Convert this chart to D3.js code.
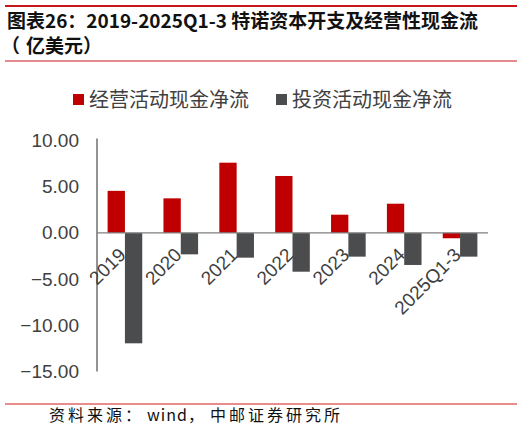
<!DOCTYPE html>
<html>
<head>
<meta charset="utf-8">
<script src="https://cdn.jsdelivr.net/npm/d3@7"></script>
<style>
  body { margin: 0; background: #fff; }
  svg { display: block; }
</style>
</head>
<body>
<div id="chart"></div>
<script>
// data
const categories = ["2019", "2020", "2021", "2022", "2023", "2024", "2025Q1-3"];
const seriesNames = ["经营活动现金净流", "投资活动现金净流"];
const operating = [4.55, 3.74, 7.6, 6.16, 1.97, 3.16, -0.58];
const investing = [-11.95, -2.32, -2.68, -4.2, -2.57, -3.47, -2.57];
const yTicks = [10, 5, 0, -5, -10, -15];

const width = 527;
const height = 440;
const colors = ["#C00000", "#4B4C4E"];
const cjk = "Noto Sans CJK SC";

const svg = d3
  .select("#chart")
  .append("svg")
  .attr("width", width)
  .attr("height", height);

// header lines and title
svg.append("line").attr("x1", 5).attr("x2", 517).attr("y1", 6).attr("y2", 6)
  .attr("stroke", "#C8161D").attr("stroke-width", 2);
svg.append("text")
  .attr("x", 7).attr("y", 28)
  .attr("font-family", cjk)
  .attr("font-weight", "bold")
  .attr("font-size", 19)
  .attr("fill", "#111")
  .attr("textLength", 471)
  .attr("lengthAdjust", "spacingAndGlyphs")
  .text("图表26：2019-2025Q1-3 特诺资本开支及经营性现金流");
// unit line, full-width brackets placed by hand
const unit = svg.append("text")
  .attr("y", 53)
  .attr("font-family", cjk)
  .attr("font-weight", "bold")
  .attr("font-size", 19)
  .attr("fill", "#111");
unit.append("tspan").attr("x", 1).text("（");
unit.append("tspan").attr("x", 26).text("亿美元");
unit.append("tspan").attr("x", 83).text("）");
svg.append("line").attr("x1", 5).attr("x2", 517).attr("y1", 61).attr("y2", 61)
  .attr("stroke", "#C8161D").attr("stroke-width", 1);

// legend
const legendX = [73, 276];
const legend = svg.selectAll(".legend")
  .data(seriesNames)
  .join("g")
  .attr("class", "legend")
  .attr("transform", (d, i) => `translate(${legendX[i]},100)`);
legend.append("rect")
  .attr("x", 0).attr("y", -6).attr("width", 11).attr("height", 11)
  .attr("fill", (d, i) => colors[i]);
legend.append("text")
  .attr("x", 16).attr("y", 7)
  .attr("font-family", cjk)
  .attr("font-size", 20)
  .attr("fill", "#404040")
  .text(d => d);

// scales
const x = d3.scaleBand().domain(categories).range([97, 488]).paddingInner(0.38).paddingOuter(0.19);
const xSub = d3.scaleBand().domain([0, 1]).range([0, x.bandwidth()]);
const y = d3.scaleLinear().domain([-15, 10]).range([371.5, 140.5]);

// y axis
const yAxis = svg.append("g")
  .attr("transform", "translate(97,0)")
  .call(d3.axisLeft(y).tickValues(yTicks).tickFormat(d3.format(".2f")).tickSize(0).tickPadding(18));
yAxis.select(".domain").attr("stroke", "#595959").attr("stroke-width", 1.3).attr("d", `M0,${y(10) - 2}V${y(-15)}`);
yAxis.selectAll("text")
  .attr("font-family", "Liberation Sans")
  .attr("font-size", 19)
  .attr("fill", "#404040");

// x labels, rotated (drawn under the bars)
const step = x.step();
svg.append("g").selectAll("text")
  .data(categories)
  .join("text")
  .attr("transform", d => `translate(${x(d) - step * 0.19 + step / 2 + 2},256) rotate(-45)`)
  .attr("text-anchor", "end")
  .attr("font-family", "Liberation Sans")
  .attr("font-size", 19)
  .attr("fill", "#404040")
  .text(d => d);

// bars
const rows = categories.map((c, i) => ({ cat: c, vals: [operating[i], investing[i]] }));
const groups = svg.append("g").selectAll("g")
  .data(rows)
  .join("g")
  .attr("transform", d => `translate(${x(d.cat)},0)`);
groups.selectAll("rect")
  .data(d => d.vals.map((v, k) => ({ v, k })))
  .join("rect")
  .attr("x", d => xSub(d.k))
  .attr("width", xSub.bandwidth())
  .attr("y", d => y(Math.max(0, d.v)))
  .attr("height", d => Math.abs(y(d.v) - y(0)))
  .attr("fill", d => colors[d.k]);

// zero line
svg.append("line")
  .attr("x1", 97).attr("x2", 488)
  .attr("y1", y(0)).attr("y2", y(0))
  .attr("stroke", "#7F7F7F").attr("stroke-width", 1.3);

// footer
svg.append("line").attr("x1", 5).attr("x2", 517).attr("y1", 404).attr("y2", 404)
  .attr("stroke", "#E06666").attr("stroke-width", 1.5);
const src = svg.append("text")
  .attr("y", 421)
  .attr("font-family", cjk)
  .attr("font-size", 16)
  .attr("letter-spacing", 3)
  .attr("fill", "#111");
src.append("tspan").attr("x", 49).text("资料来源：");
src.append("tspan").attr("x", 147).attr("letter-spacing", 1).text("wind，");
src.append("tspan").attr("x", 210).text("中邮证券研究所");
</script>
</body>
</html>
